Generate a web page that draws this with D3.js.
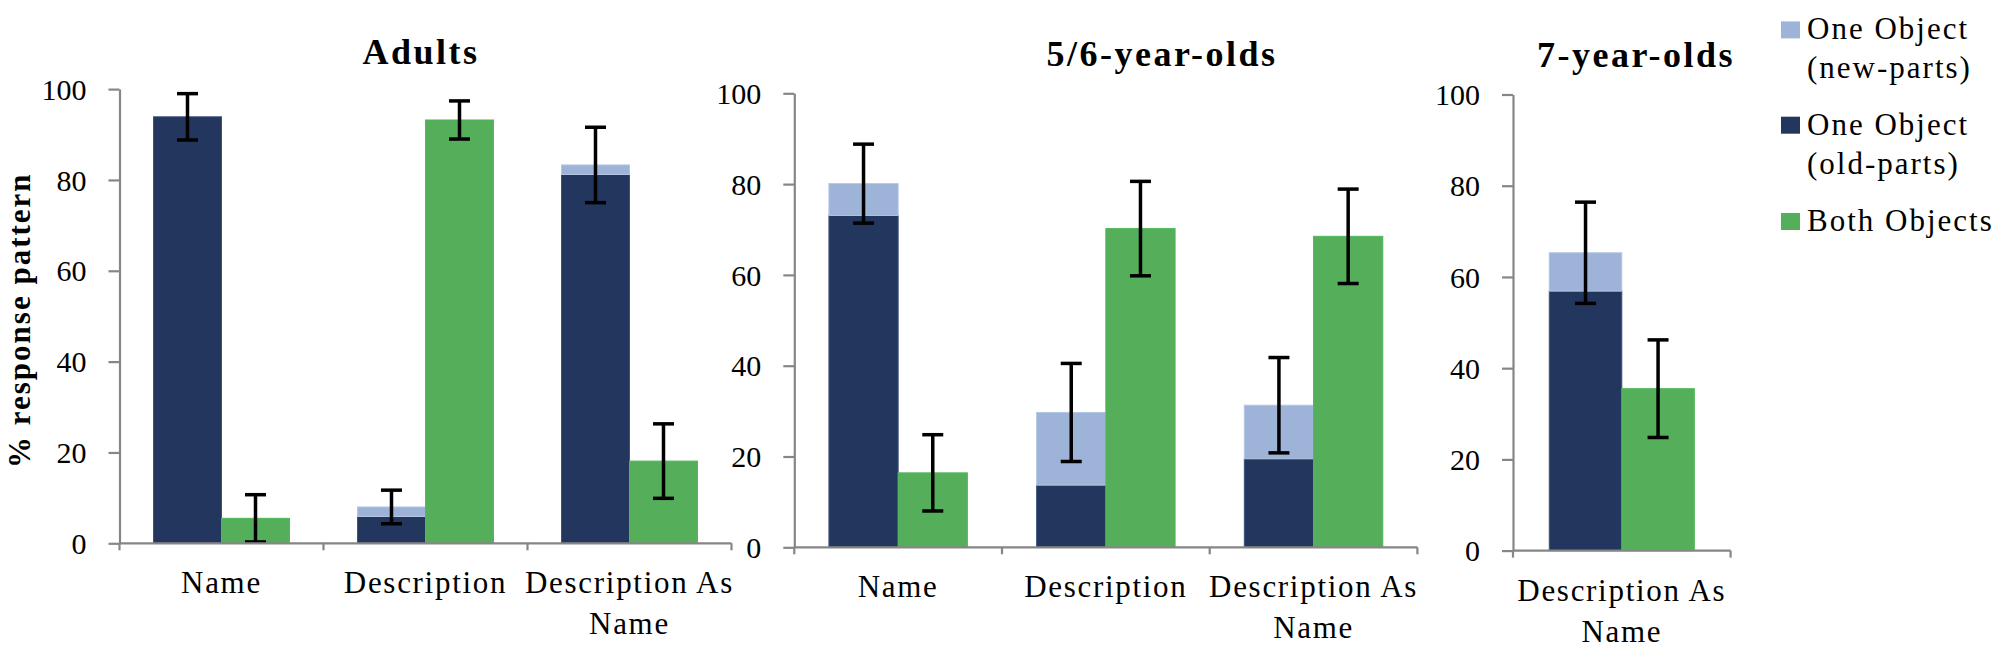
<!DOCTYPE html>
<html>
<head>
<meta charset="utf-8">
<script src="https://cdn.jsdelivr.net/npm/d3@7"></script>
<style>
  html, body { margin: 0; padding: 0; background: #fff; }
  svg { display: block; }
</style>
</head>
<body>
<svg id="chart" width="2000" height="650"></svg>
<script>
// ---------------- data ----------------
const panelTitles = ["Adults", "5/6-year-olds", "7-year-olds"];

const adultsCategories = ["Name", "Description", "Description As Name"];
const adultsOldParts   = [93.9, 5.9, 81.2];
const adultsNewParts   = [0, 2.1, 2.1];
const adultsOneErr     = [5.1, 3.7, 8.3];
const adultsBoth       = [5.5, 93.2, 18.1];
const adultsBothErr    = [5.2, 4.2, 8.2];

const kids56Categories = ["Name", "Description", "Description As Name"];
const kids56OldParts   = [73.1, 13.7, 19.5];
const kids56NewParts   = [7.0, 16.0, 11.8];
const kids56OneErr     = [8.7, 10.8, 10.5];
const kids56Both       = [16.4, 70.2, 68.5];
const kids56BothErr    = [8.4, 10.4, 10.4];

const kids7Categories  = ["Description As Name"];
const kids7OldParts    = [56.9];
const kids7NewParts    = [8.4];
const kids7OneErr      = [11.1];
const kids7Both        = [35.5];
const kids7BothErr     = [10.7];

const yTicks = [0, 20, 40, 60, 80, 100];
const yLabel = "% response pattern";
const legendItems = [
  { lines: ["One Object", "(new-parts)"], key: "new" },
  { lines: ["One Object", "(old-parts)"], key: "old" },
  { lines: ["Both Objects"], key: "both" }
];

// ---------------- styles ----------------
const FONT = "Liberation Serif, Tinos, Times New Roman, serif";
const colors = { old: "#22365e", new: "#9db3d7", both: "#55ae5a" };
const strokes = { old: "#3c5280", new: "#b4c6e4", both: "#4fb957" };
const axisColor = "#868686";

function buildRows(cats, oldP, newP, oneErr, both, bothErr) {
  return cats.map((c, i) => ({
    cat: c, old: oldP[i], nw: newP[i], oneErr: oneErr[i], both: both[i], bothErr: bothErr[i]
  }));
}

const panels = [
  { title: panelTitles[0], rows: buildRows(adultsCategories, adultsOldParts, adultsNewParts, adultsOneErr, adultsBoth, adultsBothErr),
    x0: 119.5, x1: 731.5, yBottom: 543.3, yTop: 89.1, titleX: 421, titleY: 64 },
  { title: panelTitles[1], rows: buildRows(kids56Categories, kids56OldParts, kids56NewParts, kids56OneErr, kids56Both, kids56BothErr),
    x0: 794.3, x1: 1417.4, yBottom: 547.3, yTop: 93.3, titleX: 1162, titleY: 66 },
  { title: panelTitles[2], rows: buildRows(kids7Categories, kids7OldParts, kids7NewParts, kids7OneErr, kids7Both, kids7BothErr),
    x0: 1513, x1: 1730.6, yBottom: 550.6, yTop: 94.5, titleX: 1636, titleY: 67 }
];

const svg = d3.select("#chart");

panels.forEach(p => {
  const g = svg.append("g");
  const x = d3.scaleBand().domain(p.rows.map(r => r.cat)).range([p.x0, p.x1]).padding(0);
  const sub = d3.scaleBand().domain(["one", "both"]).range([0, x.bandwidth()]).paddingInner(0).paddingOuter(0.5);
  const y = d3.scaleLinear().domain([0, 100]).range([p.yBottom, p.yTop]);

  // bars
  const grp = g.selectAll("g.cat").data(p.rows).enter().append("g")
    .attr("transform", d => `translate(${x(d.cat)},0)`);

  grp.append("rect")
    .attr("x", sub("one")).attr("width", sub.bandwidth())
    .attr("y", d => y(d.old)).attr("height", d => y(0) - y(d.old))
    .attr("fill", colors.old).attr("stroke", strokes.old).attr("stroke-width", 1);

  grp.filter(d => d.nw > 0).append("rect")
    .attr("x", sub("one")).attr("width", sub.bandwidth())
    .attr("y", d => y(d.old + d.nw)).attr("height", d => y(d.old) - y(d.old + d.nw))
    .attr("fill", colors.new).attr("stroke", strokes.new).attr("stroke-width", 1);

  grp.append("rect")
    .attr("x", sub("both")).attr("width", sub.bandwidth())
    .attr("y", d => y(d.both)).attr("height", d => y(0) - y(d.both))
    .attr("fill", colors.both).attr("stroke", strokes.both).attr("stroke-width", 1);

  // error bars
  const capW = 21;
  function errBar(sel, key, getVal, getErr) {
    const cx = sub(key) + sub.bandwidth() / 2;
    sel.each(function(d) {
      const v = getVal(d), e = getErr(d);
      const hi = Math.min(100, v + e), lo = Math.max(0, v - e);
      const s = d3.select(this);
      s.append("line").attr("x1", cx).attr("x2", cx).attr("y1", y(hi)).attr("y2", y(lo))
        .attr("stroke", "#000").attr("stroke-width", 3.5);
      s.append("line").attr("x1", cx - capW / 2).attr("x2", cx + capW / 2).attr("y1", y(hi)).attr("y2", y(hi))
        .attr("stroke", "#000").attr("stroke-width", 3.5);
      if (lo > 0) {
        s.append("line").attr("x1", cx - capW / 2).attr("x2", cx + capW / 2).attr("y1", y(lo)).attr("y2", y(lo))
          .attr("stroke", "#000").attr("stroke-width", 3.5);
      }
    });
  }
  errBar(grp, "one", d => d.old + d.nw, d => d.oneErr);
  errBar(grp, "both", d => d.both, d => d.bothErr);

  // y axis
  const yAxis = d3.axisLeft(y).tickValues(yTicks).tickSize(11).tickPadding(22).tickSizeOuter(0);
  const ya = g.append("g").attr("transform", `translate(${p.x0},0)`).call(yAxis);
  ya.attr("font-family", FONT).attr("font-size", 30);
  ya.select(".domain").attr("stroke", axisColor).attr("stroke-width", 2.2);
  ya.selectAll(".tick line").attr("stroke", axisColor).attr("stroke-width", 2.2);
  ya.selectAll(".tick text").attr("fill", "#000").attr("font-family", FONT).attr("font-size", 30)
    .attr("dy", "0.34em");

  // x axis
  const xa = g.append("g");
  xa.append("line").attr("x1", p.x0).attr("x2", p.x1).attr("y1", y(0)).attr("y2", y(0))
    .attr("stroke", axisColor).attr("stroke-width", 2.2);
  const bounds = p.rows.map(r => x(r.cat)).concat([p.x1]);
  xa.selectAll("line.xt").data(bounds).enter().append("line").attr("class", "xt")
    .attr("x1", d => d).attr("x2", d => d).attr("y1", y(0)).attr("y2", y(0) + 7)
    .attr("stroke", axisColor).attr("stroke-width", 2.2);

  const labs = xa.selectAll("text.xl").data(p.rows).enter().append("text").attr("class", "xl")
    .attr("text-anchor", "middle").attr("font-family", FONT).attr("font-size", 31)
    .attr("letter-spacing", 1.7).attr("fill", "#000");
  labs.each(function(d) {
    const t = d3.select(this);
    const lines = d.cat === "Description As Name" ? ["Description As", "Name"] : [d.cat];
    lines.forEach((ln, i) => {
      t.append("tspan").attr("x", x(d.cat) + x.bandwidth() / 2).attr("y", y(0) + 50 + i * 41).text(ln);
    });
  });

  // title
  g.append("text").attr("x", p.titleX).attr("y", p.titleY).attr("text-anchor", "middle")
    .attr("font-family", FONT).attr("font-size", 36).attr("font-weight", "bold")
    .attr("letter-spacing", 2.5).attr("fill", "#000")
    .text(p.title);
});

// y axis label
svg.append("text")
  .attr("transform", `translate(30,${(89.1 + 543.3) / 2 + 4}) rotate(-90)`)
  .attr("text-anchor", "middle")
  .attr("font-family", FONT).attr("font-size", 31).attr("font-weight", "bold")
  .attr("letter-spacing", 2).attr("fill", "#000")
  .text(yLabel);

// legend
const legendBaselines = [[39.4, 77.5], [134.7, 174], [231]];
const legend = svg.append("g");
legendItems.forEach((item, i) => {
  const base = legendBaselines[i];
  legend.append("rect").attr("x", 1781).attr("y", base[0] - 18).attr("width", 19).attr("height", 17)
    .attr("fill", colors[item.key]);
  const t = legend.append("text").attr("font-family", FONT).attr("font-size", 31)
    .attr("letter-spacing", 2).attr("fill", "#000");
  item.lines.forEach((ln, j) => {
    t.append("tspan").attr("x", 1807).attr("y", base[j]).text(ln);
  });
});
</script>
</body>
</html>
